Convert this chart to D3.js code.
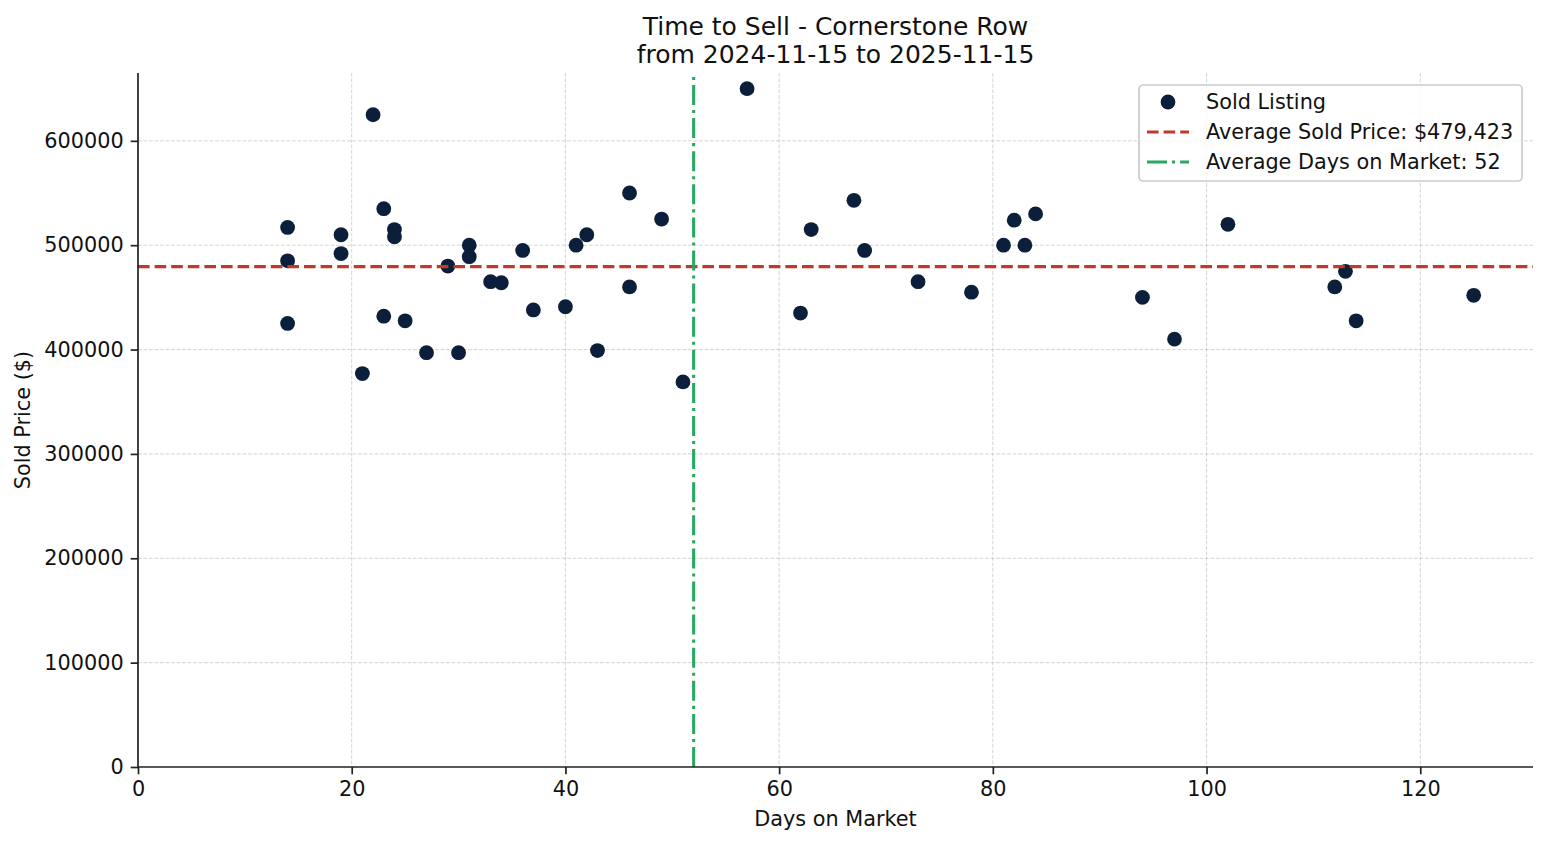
<!DOCTYPE html>
<html>
<head>
<meta charset="utf-8">
<script src="https://cdn.jsdelivr.net/npm/d3@7"></script>
<style>
    html, body { margin: 0; padding: 0; background: #fff; }
    svg { display: block; font-family: "DejaVu Sans", sans-serif; }
</style>
</head>
<body>
<div id="chart"></div>
<script>
// days on market for each sold listing
var daysOnMarket = [14, 14, 14, 19, 19, 22, 21, 23, 23, 24, 24, 25, 27, 29, 30, 31, 31, 33, 34, 36,
    37, 40, 41, 42, 43, 46, 46, 49, 51, 57, 62, 63, 67, 68, 73, 78, 81, 82, 83, 84,
    94, 97, 102, 112, 113, 114, 125];
// sold price, same order as daysOnMarket
var soldPrices = [517000, 485000, 425000, 510000, 492000, 625000, 377000, 535000, 432000, 515000,
    508000, 427500, 397000, 480000, 397000, 500000, 489000, 465000, 464000, 495000,
    438000, 441000, 500000, 510000, 399000, 550000, 460000, 525000, 369000, 650000,
    435000, 515000, 543000, 495000, 465000, 455000, 500000, 524000, 500000, 530000,
    450000, 410000, 520000, 460000, 475000, 427500, 452000];
var avgSoldPrice = 479423;
var avgDays = 52;
var xTicks = [0, 20, 40, 60, 80, 100, 120];
var yTicks = [0, 100000, 200000, 300000, 400000, 500000, 600000];
var titleLines = ["Time to Sell - Cornerstone Row", "from 2024-11-15 to 2025-11-15"];
var legendLabels = ["Sold Listing", "Average Sold Price: $" + d3.format(",")(avgSoldPrice),
    "Average Days on Market: " + avgDays];

(function () {
    var W = 1547, H = 845;
    var left = 138, right = 1533, top = 73, bottom = 767;
    var colDot = "#0b1f3b", colRed = "#c0392b", colGreen = "#2aa862", colAxis = "#222";
    var fs = "20.8px";

    var svg = d3.select("#chart").append("svg")
        .attr("width", W)
        .attr("height", H);

    var xMax = d3.max(daysOnMarket) + 0.05 * (d3.max(daysOnMarket) - d3.min(daysOnMarket));
    var x = d3.scaleLinear().domain([0, xMax]).range([left, right]);
    var y = d3.scaleLinear().domain([0, 665000]).range([bottom, top]);

    //region grid
    var grid = svg.append("g").attr("class", "grid");
    grid.selectAll("line.gx").data(xTicks.filter(function (d) { return d > 0; }))
        .enter().append("line")
        .attr("x1", function (d) { return x(d); }).attr("x2", function (d) { return x(d); })
        .attr("y1", top).attr("y2", bottom);
    grid.selectAll("line.gy").data(yTicks.filter(function (d) { return d > 0; }))
        .enter().append("line")
        .attr("x1", left).attr("x2", right)
        .attr("y1", function (d) { return y(d); }).attr("y2", function (d) { return y(d); });
    grid.selectAll("line")
        .attr("stroke", "#b0b0b0")
        .attr("stroke-opacity", 0.55)
        .attr("stroke-width", 1)
        .attr("stroke-dasharray", "3.8,1.7");
    //endregion

    //region points + average lines
    svg.append("g").selectAll("circle")
        .data(daysOnMarket)
        .enter().append("circle")
        .attr("cx", function (d) { return x(d); })
        .attr("cy", function (d, i) { return y(soldPrices[i]); })
        .attr("r", 7.4)
        .attr("fill", colDot);

    svg.append("line")
        .attr("x1", left).attr("x2", right)
        .attr("y1", y(avgSoldPrice)).attr("y2", y(avgSoldPrice))
        .attr("stroke", colRed).attr("stroke-width", 3.1)
        .attr("stroke-dasharray", "11.6,5");

    svg.append("line")
        .attr("x1", x(avgDays)).attr("x2", x(avgDays))
        .attr("y1", bottom).attr("y2", top)
        .attr("stroke", colGreen).attr("stroke-width", 3.1)
        .attr("stroke-dasharray", "20,5,3.1,5");
    //endregion

    //region axes
    var xAxis = svg.append("g")
        .attr("transform", "translate(0," + bottom + ")")
        .call(d3.axisBottom(x).tickValues(xTicks).tickSize(7.3).tickPadding(7).tickFormat(d3.format("d")));
    var yAxis = svg.append("g")
        .attr("transform", "translate(" + left + ",0)")
        .call(d3.axisLeft(y).tickValues(yTicks).tickSize(7.3).tickPadding(7).tickFormat(d3.format("d")));
    [xAxis, yAxis].forEach(function (ax) {
        ax.select(".domain").attr("stroke", colAxis).attr("stroke-width", 1.7);
        ax.selectAll(".tick line").attr("stroke", colAxis).attr("stroke-width", 1.7);
        ax.selectAll(".tick text").attr("fill", "#111").style("font-size", fs)
            .style("font-family", "DejaVu Sans");
    });
    xAxis.select(".domain").attr("d", "M" + left + ",0H" + right);
    yAxis.select(".domain").attr("d", "M0," + bottom + "V" + top);
    //endregion

    //region labels
    svg.selectAll("text.title").data(titleLines)
        .enter().append("text")
        .attr("class", "title")
        .attr("x", (left + right) / 2)
        .attr("y", function (d, i) { return 26 + i * 28; })
        .attr("text-anchor", "middle")
        .attr("dominant-baseline", "central")
        .style("font-size", "25px")
        .attr("fill", "#111")
        .text(function (d) { return d; });

    svg.append("text")
        .attr("x", (left + right) / 2).attr("y", 819)
        .attr("text-anchor", "middle").attr("dominant-baseline", "central")
        .style("font-size", fs).attr("fill", "#111")
        .text("Days on Market");

    svg.append("text")
        .attr("transform", "translate(23," + ((top + bottom) / 2) + ") rotate(-90)")
        .attr("text-anchor", "middle").attr("dominant-baseline", "central")
        .style("font-size", fs).attr("fill", "#111")
        .text("Sold Price ($)");
    //endregion

    //region legend
    var lg = svg.append("g").attr("transform", "translate(1139,85)");
    lg.append("rect")
        .attr("width", 383).attr("height", 96)
        .attr("rx", 4).attr("ry", 4)
        .attr("fill", "#fff").attr("fill-opacity", 0.8)
        .attr("stroke", "#cccccc").attr("stroke-width", 1.7);

    var rows = lg.selectAll("g.row").data(legendLabels)
        .enter().append("g")
        .attr("transform", function (d, i) { return "translate(0," + (17 + i * 30) + ")"; });
    rows.append("text")
        .attr("x", 67).attr("dominant-baseline", "central")
        .style("font-size", fs).attr("fill", "#111")
        .text(function (d) { return d; });

    lg.append("circle").attr("cx", 29).attr("cy", 17).attr("r", 7.4).attr("fill", colDot);
    lg.append("line").attr("x1", 8).attr("x2", 50).attr("y1", 47).attr("y2", 47)
        .attr("stroke", colRed).attr("stroke-width", 3.1).attr("stroke-dasharray", "11.6,5");
    lg.append("line").attr("x1", 8).attr("x2", 50).attr("y1", 77).attr("y2", 77)
        .attr("stroke", colGreen).attr("stroke-width", 3.1).attr("stroke-dasharray", "20,5,3.1,5");
    //endregion
})();
</script>
</body>
</html>
